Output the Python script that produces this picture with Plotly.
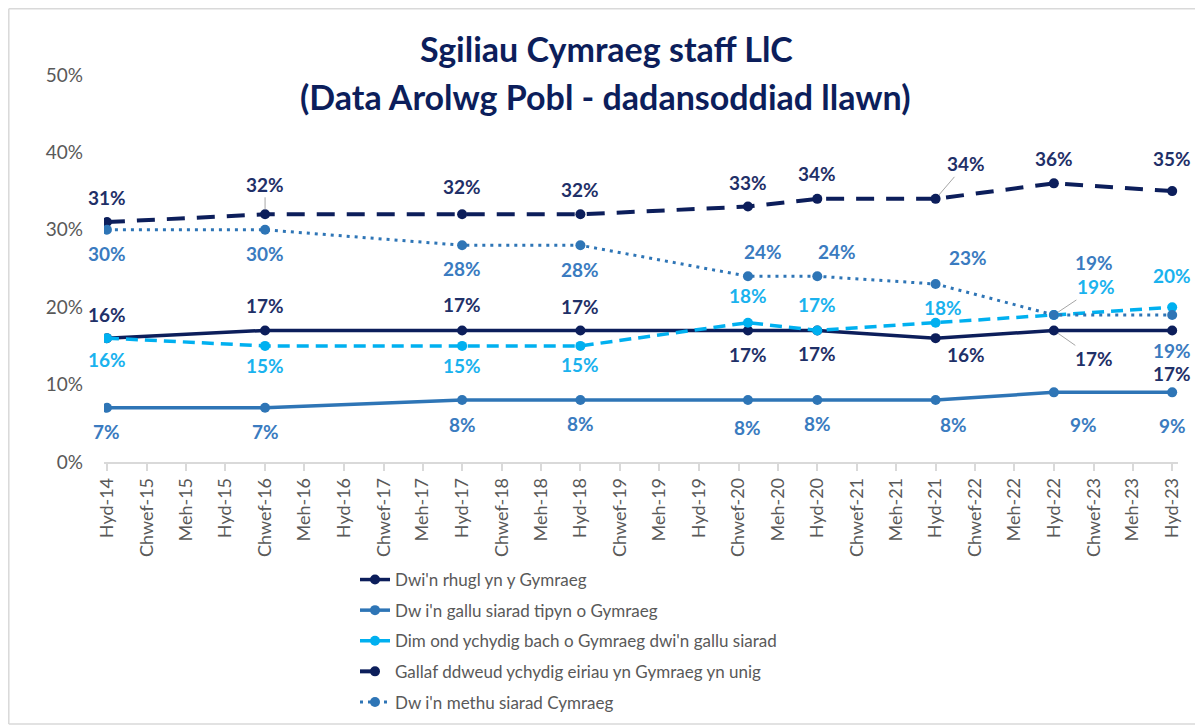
import pandas as pd
import plotly.graph_objects as go

# ---------------- data ----------------
dates = ["2014-10-01", "2016-02-01", "2017-10-01", "2018-10-01", "2020-03-01",
         "2020-10-01", "2021-10-01", "2022-10-01", "2023-10-01"]

series_names = [
    "Dwi'n rhugl yn y Gymraeg",
    "Dw i'n gallu siarad tipyn o Gymraeg",
    "Dim ond ychydig bach o Gymraeg dwi'n gallu siarad",
    "Gallaf ddweud ychydig eiriau yn Gymraeg yn unig",
    "Dw i'n methu siarad Cymraeg",
]
rhugl = [16, 17, 17, 17, 17, 17, 16, 17, 17]
tipyn = [7, 7, 8, 8, 8, 8, 8, 9, 9]
ychydig_bach = [16, 15, 15, 15, 18, 17, 18, 19, 20]
ychydig_eiriau = [31, 32, 32, 32, 33, 34, 34, 36, 35]
methu = [30, 30, 28, 28, 24, 24, 23, 19, 19]
values = [rhugl, tipyn, ychydig_bach, ychydig_eiriau, methu]

tick_labels = ["Hyd-14", "Chwef-15", "Meh-15", "Hyd-15", "Chwef-16", "Meh-16", "Hyd-16",
               "Chwef-17", "Meh-17", "Hyd-17", "Chwef-18", "Meh-18", "Hyd-18", "Chwef-19",
               "Meh-19", "Hyd-19", "Chwef-20", "Meh-20", "Hyd-20", "Chwef-21", "Meh-21",
               "Hyd-21", "Chwef-22", "Meh-22", "Hyd-22", "Chwef-23", "Meh-23", "Hyd-23"]
tick_dates = pd.date_range("2014-10-01", periods=len(tick_labels), freq="4MS")

y_ticks = [0, 10, 20, 30, 40, 50]
y_tick_labels = ["0%", "10%", "20%", "30%", "40%", "50%"]

title_line1 = "Sgiliau Cymraeg staff LlC"
title_line2 = "(Data Arolwg Pobl - dadansoddiad llawn)"

# ---------------- styles ----------------
FONT = "Lato"
navy = "#0C1E5B"
blue = "#2E75B6"
cyan = "#00B0F0"
line_colors = [navy, blue, cyan, navy, blue]
label_colors = ["#1F3068", "#3A7BC0", "#1AB2EE", "#1F3068", "#3A7BC0"]
dashes = ["solid", "solid", "12px,7px", "18px,12px", "3px,5px"]
widths = [3.5, 3.5, 3.5, 4, 3]

# label offsets (dx px, dy px, leader line?) per series, per point
offsets = [
    [(0, 24, 0), (0, 25, 0), (0, 26, 0), (0, 24, 0), (0, -24, 0), (0, -23, 0), (30, -16, 0), (40, -28, 1), (0, -43, 0)],
    [(0, -24, 0), (0, -24, 0), (0, -24, 0), (0, -23, 0), (0, -27, 0), (0, -23, 0), (18, -24, 0), (30, -32, 0), (0, -33, 0)],
    [(0, -21, 0), (0, -20, 0), (0, -20, 0), (0, -19, 0), (0, 27, 0), (0, 26, 0), (7, 15, 0), (42, 28, 1), (0, 32, 0)],
    [(0, 25, 0), (0, 30, 1), (0, 28, 0), (0, 25, 0), (0, 24, 0), (0, 25, 0), (30, 35, 1), (0, 25, 0), (0, 33, 0)],
    [(0, -24, 0), (0, -24, 0), (0, -23, 0), (0, -24, 0), (15, 25, 0), (20, 25, 0), (32, 26, 0), (40, 52, 0), (0, -36, 0)],
]

fig = go.Figure()
for i, (name, vals) in enumerate(zip(series_names, values)):
    fig.add_trace(go.Scatter(
        x=dates, y=vals, name=name, mode="lines+markers",
        line=dict(color=line_colors[i], width=widths[i], dash=dashes[i]),
        marker=dict(color=line_colors[i], size=10, symbol="circle"),
        legendgroup=f"g{i}", showlegend=True,
    ))

LABEL_SIZE = 19
annotations = []
for i, vals in enumerate(values):
    for j, v in enumerate(vals):
        dx, dy, leader = offsets[i][j]
        txt = f"{v}%"
        if leader:
            annotations.append(dict(
                x=dates[j], y=v, xref="x", yref="y", text=f"<b>{txt}</b>",
                showarrow=True, arrowhead=0, arrowwidth=1, arrowcolor="#A6A6A6",
                ax=dx, ay=-dy, standoff=5,
                font=dict(family=FONT, size=LABEL_SIZE, color=label_colors[i]),
            ))
        else:
            annotations.append(dict(
                x=dates[j], y=v, xref="x", yref="y", text=f"<b>{txt}</b>",
                showarrow=False, xshift=dx, yshift=dy,
                font=dict(family=FONT, size=LABEL_SIZE, color=label_colors[i]),
            ))

# Page has an 8px body margin: figure pixel = screen pixel - 8
OFF = 8
W, H = 1203 - OFF, 728 - OFF
PL, PR, PT, PB = 104, 1178, 75, 462  # plot area in screen px
pw, ph = PR - PL, PB - PT


def px(sx):
    return (sx - PL) / pw


def py(sy):
    return (PB - sy) / ph


annotations.append(dict(
    text=f"<b>{title_line1}</b>", xref="paper", yref="paper",
    x=px(606), y=py(48), showarrow=False, xanchor="center", yanchor="middle",
    font=dict(family=FONT, size=34, color="#0C1E5B"),
))
annotations.append(dict(
    text=f"<b>{title_line2}</b>", xref="paper", yref="paper",
    x=px(605), y=py(96), showarrow=False, xanchor="center", yanchor="middle",
    font=dict(family=FONT, size=34, color="#0C1E5B"),
))

border = dict(color="#D9D9D9", width=1.5)
fig.update_layout(
    width=W, height=H,
    margin=dict(l=PL - OFF, r=W - (PR - OFF), t=PT - OFF, b=H - (PB - OFF), autoexpand=False),
    paper_bgcolor="white", plot_bgcolor="white",
    font=dict(family=FONT, color="#595959"),
    showlegend=True,
    legend=dict(
        x=px(355), y=py(562), xanchor="left", yanchor="top",
        orientation="v", tracegroupgap=5.5,
        font=dict(family=FONT, size=17, color="#595959"),
        bgcolor="rgba(0,0,0,0)",
    ),
    annotations=annotations,
    shapes=[
        dict(type="line", xref="paper", yref="paper",
             x0=px(OFF + 0.8), x1=px(1210), y0=py(OFF + 0.8), y1=py(OFF + 0.8), line=border),
        dict(type="line", xref="paper", yref="paper",
             x0=px(OFF + 0.8), x1=px(OFF + 0.8), y0=py(OFF + 0.8), y1=py(724), line=border),
        dict(type="line", xref="paper", yref="paper",
             x0=px(OFF + 0.8), x1=px(1210), y0=py(724), y1=py(724), line=border),
    ],
)

fig.update_xaxes(
    type="date", range=["2014-09-22", "2023-10-19"],
    tickmode="array", tickvals=tick_dates, ticktext=tick_labels,
    tickangle=-90, tickfont=dict(family=FONT, size=18, color="#595959"),
    showgrid=False, zeroline=False,
    showline=True, linecolor="#D9D9D9", linewidth=1.5,
    ticks="outside", ticklen=7, tickcolor="#D9D9D9", tickwidth=1.5,
)
fig.update_yaxes(
    range=[0, 50], tickmode="array", tickvals=y_ticks, ticktext=y_tick_labels,
    tickfont=dict(family=FONT, size=19, color="#595959"),
    showgrid=False, zeroline=False, showline=False, ticks="",
    ticklabelstandoff=20,
)

fig.write_html("out.html")
